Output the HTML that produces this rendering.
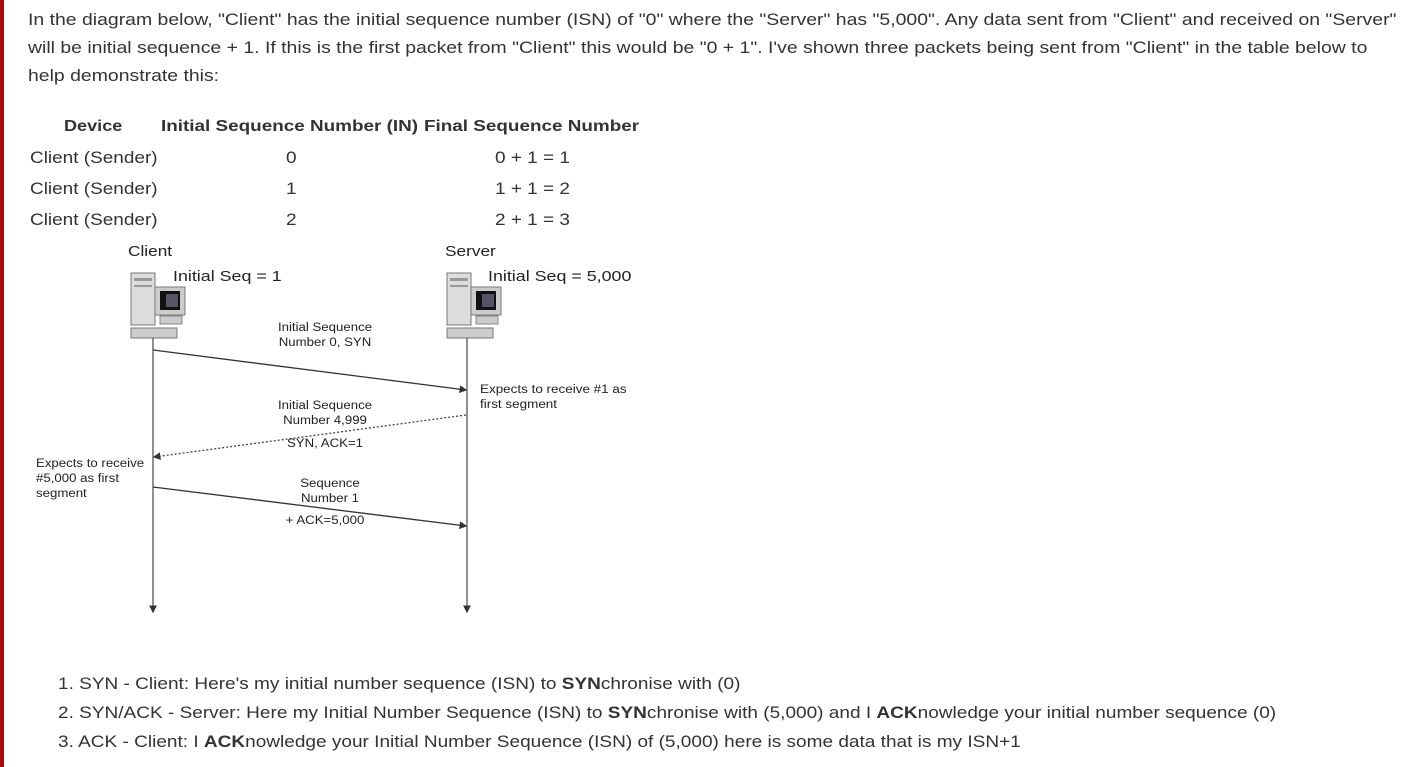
<!DOCTYPE html>
<html><head><meta charset="utf-8"><style>
body{margin:0;width:1416px;height:767px;background:#fff;position:relative;overflow:hidden;font-family:"Liberation Sans",sans-serif;color:#333;}
.bar{position:absolute;left:0;top:0;width:4px;height:767px;background:#a30c0c;}
.t{position:absolute;white-space:nowrap;font-size:16.5px;line-height:20px;transform:scaleX(1.15);transform-origin:0 0;}
.h{font-weight:bold;color:#333;font-size:16px;transform:scaleX(1.18);}
.d{position:absolute;white-space:nowrap;font-size:11.5px;line-height:15px;color:#222;transform:scaleX(1.15);transform-origin:0 0;}
.c{text-align:center;transform-origin:50% 0;}
</style></head><body>
<div class="bar"></div>
<div class="t" style="left:28px;top:10px;transform:scaleX(1.177)">In the diagram below, "Client" has the initial sequence number (ISN) of "0" where the "Server" has "5,000". Any data sent from "Client" and received on "Server"</div>
<div class="t" style="left:28px;top:38px;transform:scaleX(1.177)">will be initial sequence + 1. If this is the first packet from "Client" this would be "0 + 1". I've shown three packets being sent from "Client" in the table below to</div>
<div class="t" style="left:28px;top:66px;transform:scaleX(1.177)">help demonstrate this:</div>

<div class="t h" style="left:64px;top:117px;transform:scaleX(1.13)">Device</div>
<div class="t h" style="left:161px;top:117px">Initial Sequence Number (IN)</div>
<div class="t h" style="left:424px;top:117px">Final Sequence Number</div>
<div class="t" style="left:30px;top:148px">Client (Sender)</div>
<div class="t" style="left:286px;top:148px">0</div>
<div class="t" style="left:495px;top:148px">0 + 1 = 1</div>
<div class="t" style="left:30px;top:179px">Client (Sender)</div>
<div class="t" style="left:286px;top:179px">1</div>
<div class="t" style="left:495px;top:179px">1 + 1 = 2</div>
<div class="t" style="left:30px;top:210px">Client (Sender)</div>
<div class="t" style="left:286px;top:210px">2</div>
<div class="t" style="left:495px;top:210px">2 + 1 = 3</div>

<svg style="position:absolute;left:0;top:0" width="1416" height="767">
<defs><marker id="a" markerWidth="6" markerHeight="6" refX="5" refY="3" orient="auto"><path d="M0,0 L6,3 L0,6z" fill="#333"/></marker></defs>
<g id="pc">
<rect x="131" y="273" width="24" height="52" fill="#ddd" stroke="#777"/>
<rect x="134" y="278" width="18" height="3" fill="#999"/>
<rect x="134" y="285" width="18" height="2" fill="#999"/>
<rect x="155" y="287" width="30" height="28" fill="#ccc" stroke="#777"/>
<rect x="160" y="291" width="20" height="19" fill="#111"/>
<rect x="166" y="294" width="12" height="13" fill="#556"/>
<rect x="160" y="316" width="22" height="8" fill="#ccc" stroke="#888"/>
<rect x="131" y="328" width="46" height="10" fill="#ccc" stroke="#777"/>
</g>
<use href="#pc" x="316" y="0"/>
<line x1="153" y1="338" x2="153" y2="612" stroke="#555" stroke-width="1.3" marker-end="url(#a)"/>
<line x1="467" y1="338" x2="467" y2="612" stroke="#555" stroke-width="1.3" marker-end="url(#a)"/>
<line x1="153" y1="350" x2="466" y2="390" stroke="#333" stroke-width="1.3" marker-end="url(#a)"/>
<line x1="466" y1="415" x2="154" y2="457" stroke="#444" stroke-width="1.3" stroke-dasharray="2,2" marker-end="url(#a)"/>
<line x1="153" y1="487" x2="466" y2="526" stroke="#333" stroke-width="1.3" marker-end="url(#a)"/>
</svg>
<div class="d" style="left:128px;top:243px;font-size:15px;line-height:18px">Client</div>
<div class="d" style="left:445px;top:243px;font-size:15px;line-height:18px">Server</div>
<div class="d" style="left:173px;top:268px;font-size:15px;line-height:18px;transform:scaleX(1.19)">Initial Seq = 1</div>
<div class="d" style="left:488px;top:268px;font-size:15px;line-height:18px;transform:scaleX(1.19)">Initial Seq = 5,000</div>
<div class="d c" style="left:265px;top:321px;width:120px">Initial Sequence<br>Number 0, SYN</div>
<div class="d" style="left:480px;top:383px;transform:scaleX(1.17)">Expects to receive #1 as<br>first segment</div>
<div class="d c" style="left:265px;top:399px;width:120px">Initial Sequence<br>Number 4,999</div>
<div class="d c" style="left:265px;top:437px;width:120px">SYN, ACK=1</div>
<div class="d" style="left:36px;top:457px">Expects to receive<br>#5,000 as first<br>segment</div>
<div class="d c" style="left:270px;top:477px;width:120px">Sequence<br>Number 1</div>
<div class="d c" style="left:265px;top:514px;width:120px">+ ACK=5,000</div>

<div class="t" style="left:58px;top:674px;transform:scaleX(1.153)">1. SYN - Client: Here's my initial number sequence (ISN) to <b>SYN</b>chronise with (0)</div>
<div class="t" style="left:58px;top:703px;transform:scaleX(1.153)">2. SYN/ACK - Server: Here my Initial Number Sequence (ISN) to <b>SYN</b>chronise with (5,000) and I <b>ACK</b>nowledge your initial number sequence (0)</div>
<div class="t" style="left:58px;top:732px;transform:scaleX(1.153)">3. ACK - Client: I <b>ACK</b>nowledge your Initial Number Sequence (ISN) of (5,000) here is some data that is my ISN+1</div>
</body></html>
